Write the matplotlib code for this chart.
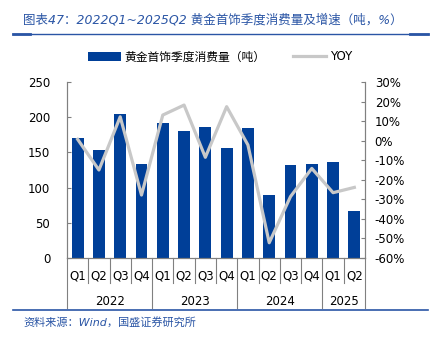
import matplotlib
matplotlib.use("Agg")
import matplotlib.pyplot as plt
import matplotlib.transforms as mtransforms
from matplotlib.lines import Line2D
from matplotlib.patches import Patch
import numpy as np

plt.rcParams["font.family"] = ["DejaVu Sans", "Noto Sans CJK SC"]

# ── Data ──────────────────────────────────────────────────────────────────────
quarters = ["Q1", "Q2", "Q3", "Q4", "Q1", "Q2", "Q3", "Q4",
            "Q1", "Q2", "Q3", "Q4", "Q1", "Q2"]
years = ["2022", "2023", "2024", "2025"]
year_sizes = [4, 4, 4, 2]
consumption = [171, 154, 204, 134, 192, 181, 186, 156,
               185, 89, 132, 134, 137, 67]
yoy = [0.7, -15.0, 12.2, -27.8, 13.1, 18.2, -8.5, 17.4,
       -2.2, -52.2, -28.6, -14.2, -26.6, -23.9]

BLUE = "#003F98"
GREY = "#C8C8C8"
TITLE_BLUE = "#2A55A5"
AXIS = "#808080"

fig = plt.figure(figsize=(4.4, 3.43), dpi=100, facecolor="white")
ax = fig.add_axes([67 / 440, 1 - 258 / 343, 298 / 440, 176 / 343])
ax2 = ax.twinx()

x = np.arange(len(consumption))
ax.bar(x, consumption, width=0.56, color=BLUE, zorder=2)
ax.set_xlim(-0.5, len(consumption) - 0.5)
ax.set_ylim(0, 250)
ax.set_yticks(range(0, 251, 50))

ax2.plot(x, yoy, color=GREY, linewidth=2.3, zorder=3)
ax2.set_ylim(-60, 30)
ax2.set_yticks(range(-60, 31, 10))
ax2.set_yticklabels([f"{v}%" for v in range(-60, 31, 10)])

for a in (ax, ax2):
    a.spines["top"].set_visible(False)
    for s in ("left", "right", "bottom"):
        a.spines[s].set_color(AXIS)
        a.spines[s].set_linewidth(0.8)
    a.tick_params(axis="y", direction="in", length=3, color=AXIS,
                  labelsize=8.5, pad=4)
    a.tick_params(axis="x", length=0, labelbottom=False)
ax.tick_params(axis="y", pad=12)
ax2.tick_params(axis="y", pad=7)

# two-level category axis
trans = mtransforms.blended_transform_factory(ax.transData, ax.transAxes)
for i, q in enumerate(quarters):
    ax.text(i, -0.1, q, transform=trans, ha="center", va="center", fontsize=8.5)
bounds = np.concatenate([[0], np.cumsum(year_sizes)])
for b in range(len(consumption) + 1):
    depth = -0.285 if b in bounds else -0.142
    ax.add_line(Line2D([b - 0.5, b - 0.5], [0, depth], transform=trans,
                       color=AXIS, linewidth=0.8, clip_on=False))
for yr, start, size in zip(years, bounds[:-1], year_sizes):
    ax.text(start + size / 2 - 0.5, -0.245, yr, transform=trans,
            ha="center", va="center", fontsize=8.5)

# legend
handles = [Patch(facecolor=BLUE, label="黄金首饰季度消费量（吨）"),
           Line2D([0], [0], color=GREY, linewidth=2.3, label="YOY")]
fig.legend(handles=handles, loc="center", bbox_to_anchor=(0.5, 1 - 57 / 343),
           ncol=2, frameon=False, fontsize=8.5, handlelength=2.8,
           handleheight=0.9, columnspacing=2.3, handletextpad=0.3)

# title, rules and source
fig.text(23 / 440, 1 - 20 / 343,
         "图表47：2022Q1~2025Q2 黄金首饰季度消费量及增速（吨，%）",
         color=TITLE_BLUE, fontsize=9, style="italic", va="center", ha="left")
fig.add_artist(Line2D([13 / 440, 428 / 440], [1 - 34 / 343] * 2,
                      color=TITLE_BLUE, linewidth=1.0))
fig.add_artist(Line2D([13 / 440, 30 / 440], [1 - 34 / 343] * 2,
                      color=TITLE_BLUE, linewidth=2.0))
fig.add_artist(Line2D([410 / 440, 428 / 440], [1 - 34 / 343] * 2,
                      color=TITLE_BLUE, linewidth=2.0))
fig.add_artist(Line2D([13 / 440, 428 / 440], [1 - 310 / 343] * 2,
                      color=TITLE_BLUE, linewidth=1.2))
fig.text(23 / 440, 1 - 322 / 343, "资料来源：Wind，国盛证券研究所",
         color=TITLE_BLUE, fontsize=8, style="italic", va="center", ha="left")

fig.savefig("out.png", dpi=100, facecolor="white")
